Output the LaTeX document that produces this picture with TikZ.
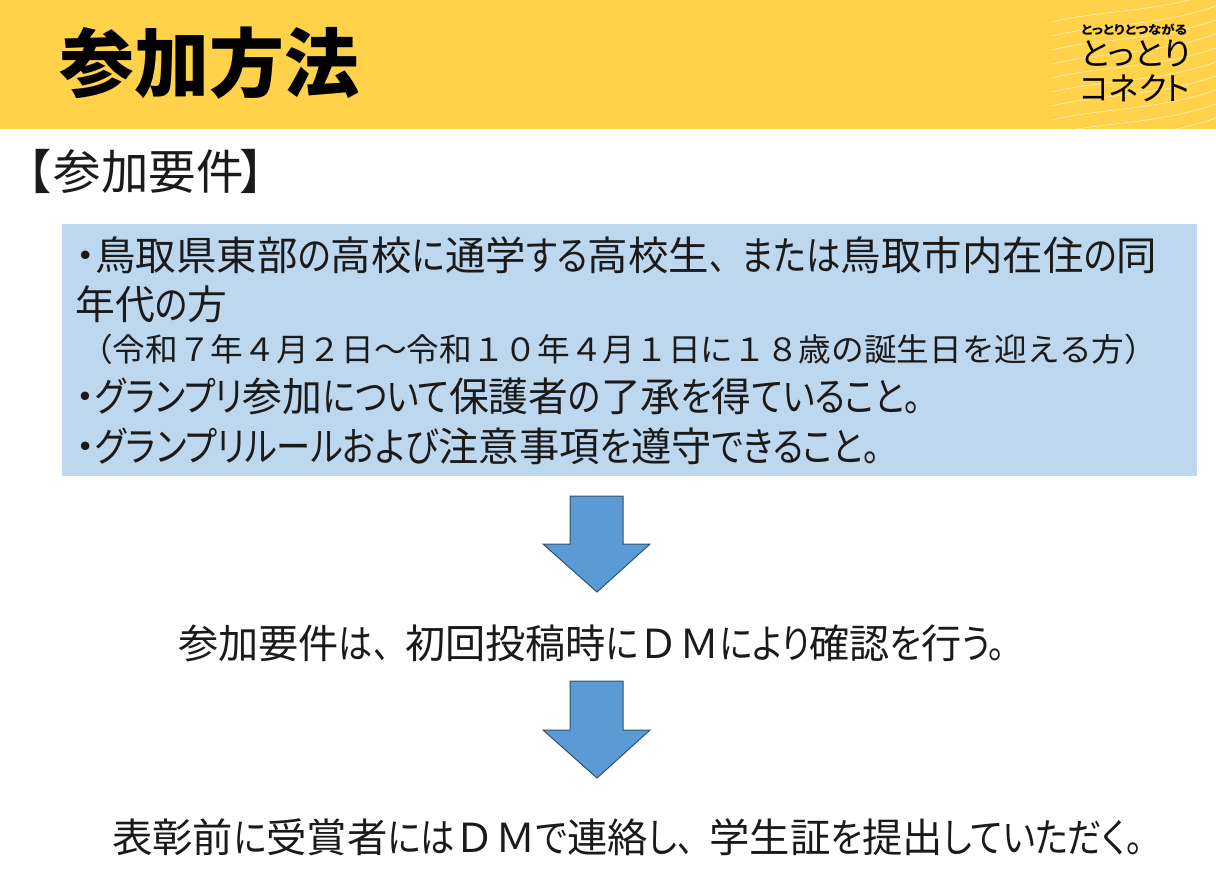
\documentclass[tikz,border=0pt]{standalone}
\usepackage{fontspec}
\newfontfamily\jp{Noto Sans CJK JP}[RawFeature=+palt]
\newfontfamily\jpfull{Noto Sans CJK JP}
\definecolor{band}{HTML}{FFD24A}
\definecolor{reqbox}{HTML}{BDD7EE}
\definecolor{arrowfill}{HTML}{5B9BD5}
\definecolor{arrowedge}{HTML}{2F5175}
\definecolor{ink}{HTML}{1A1A1A}
\tikzset{
  txt/.style={anchor=west,inner sep=0pt,text=ink,font=\jp},
  downarrow/.style={fill=arrowfill,draw=arrowedge,line width=1pt,line join=miter},
  wave/.style={draw=white,opacity=.55,line width=.7pt}
}
\newcommand{\fs}[1]{\fontsize{#1}{#1}\selectfont}
\newcommand{\ka}[1]{\scalebox{.85}[1]{#1}}
\newcommand{\fitw}[2]{\resizebox{#1pt}{\height}{#2}}
\newcommand{\dm}{{\jpfull ＤＭ}}
\newcommand{\ten}{\scalebox{.8}[1]{\jpfull 、}}
\begin{document}
\begin{tikzpicture}[x=1pt,y=-1pt]
\useasboundingbox (0,0) rectangle (1216,879);
\fill[band] (0,0) rectangle (1216,129);
\foreach \yy in {10,24,38,52,66,80,94,108,122,136}{
  \draw[wave] (1052,\yy+12) .. controls (1100,\yy) and (1160,\yy+2) .. (1216,\yy-18);
}
\node[txt,text=black,font=\jp\bfseries\fs{75}] (title) at (59,63) {参加方法};
\node[txt,text=black,font=\jp\fs{12}\bfseries] (logoa) at (1081,30) {\fitw{106}{とっとりとつながる}};
\node[txt,text=black,font=\jp\fs{32}] (logob) at (1080,54) {\fitw{110}{とっとり}};
\node[txt,text=black,font=\jp\fs{32}] (logoc) at (1080,88) {\fitw{110}{コネクト}};
\node[txt,font=\jpfull\fs{47.5}] (head) at (4,171) {【\hspace{2pt}参加要件\hspace{-4pt}】};
\fill[reqbox] (62,224) rectangle (1197,476);
\node[txt,font=\jp\fs{40}] (l1) at (75,255) {\fitw{1082}{・鳥取県東部\ka{の}高校\ka{に}通学\ka{する}高校生\ten\ka{または}鳥取市内在住\ka{の}同}};
\node[txt,font=\jp\fs{40}] (l2) at (75,304) {\fitw{152}{年代\ka{の}方}};
\node[txt,font=\jpfull\fs{32}] (l3) at (80,349) {\fitw{1077}{（令和７年４月２日～令和１０年４月１日に１８歳の誕生日を迎える方）}};
\node[txt,font=\jp\fs{40}] (l4) at (75,396) {\fitw{846}{・\ka{グランプリ}参加\ka{について}保護者\ka{の}了承\ka{を}得\ka{ていること。}}};
\node[txt,font=\jp\fs{40}] (l5) at (75,446) {\fitw{805}{・\ka{グランプリルールおよび}注意事項\ka{を}遵守\ka{できること。}}};
\draw[downarrow] (570,496) -- (623,496) -- (623,544) -- (650,544) -- (597,592) -- (543,544) -- (570,544) -- cycle;
\node[txt,font=\jp\fs{40}] (m1) at (178,643) {\fitw{827}{参加要件\ka{は}\ten 初回投稿時\ka{に}\dm\ka{により}確認\ka{を}行\ka{う。}}};
\draw[downarrow] (570,681) -- (623,681) -- (623,730) -- (650,730) -- (597,778) -- (543,730) -- (570,730) -- cycle;
\node[txt,font=\jp\fs{40}] (m2) at (112,837) {\fitw{1031}{表彰前\ka{に}受賞者\ka{には}\dm\ka{で}連絡\ka{し}\ten 学生証\ka{を}提出\ka{していただく。}}};
\end{tikzpicture}
\end{document}
